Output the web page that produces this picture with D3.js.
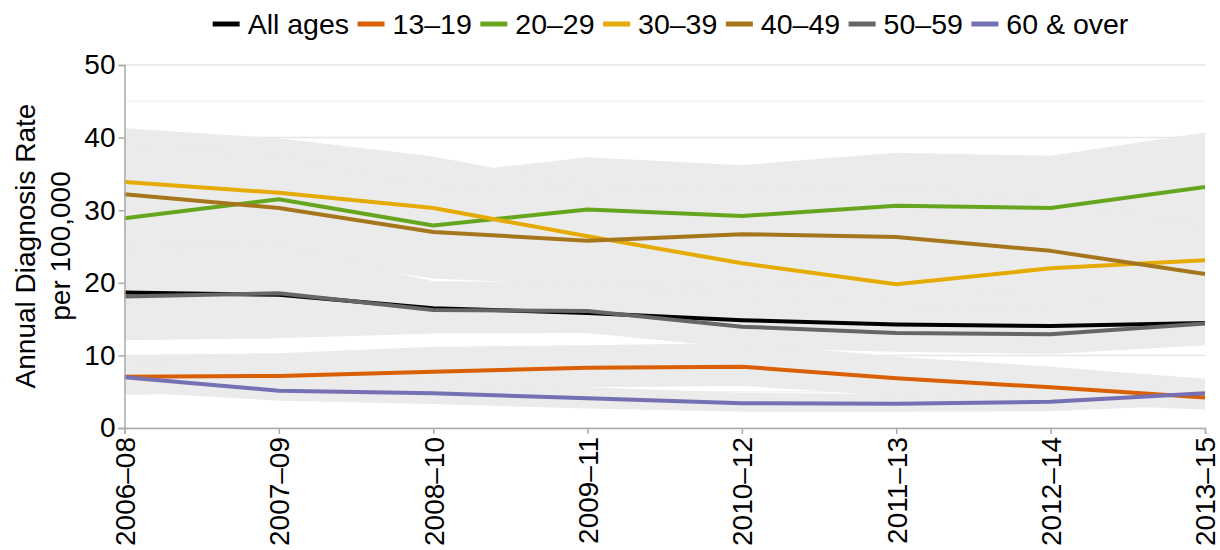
<!DOCTYPE html>
<html>
<head>
<meta charset="utf-8">
<script src="https://cdn.jsdelivr.net/npm/d3@7"></script>
<style>
  html, body { margin: 0; padding: 0; background: #fff; }
  svg { display: block; font-family: "Liberation Sans", Arial, sans-serif; }
</style>
</head>
<body>
<svg id="chart" width="1220" height="550"></svg>
<script>
// ---- data ----
const categories = ["2006–08","2007–09","2008–10","2009–11","2010–12","2011–13","2012–14","2013–15"];
const seriesNames = ["All ages","13–19","20–29","30–39","40–49","50–59","60 & over"];
const seriesColors = ["#000000","#d95f02","#66a61e","#e6ab02","#a6761d","#666666","#7570b3"];

const allAges     = [18.65, 18.35, 16.5, 15.85, 14.85, 14.25, 14.05, 14.45];
const allAgesLo   = [17.5, 17.2, 15.4, 14.8, 13.8, 13.2, 13.0, 13.4];
const allAgesHi   = [19.8, 19.5, 17.6, 16.9, 15.9, 15.3, 15.1, 15.5];

const age13_19    = [7.07, 7.16, 7.76, 8.3, 8.45, 6.85, 5.6, 4.2];
const age13_19Lo  = [4.6, 4.7, 5.2, 5.6, 5.8, 4.4, 3.4, 2.5];
const age13_19Hi  = [10.05, 10.3, 11.2, 11.4, 11.7, 9.8, 8.45, 6.8];

const age20_29    = [28.9, 31.5, 27.9, 30.1, 29.2, 30.6, 30.3, 33.2];
const age20_29Lo  = [22.4, 25.0, 21.4, 23.6, 22.7, 24.1, 23.8, 26.5];
const age20_29Hi  = [36.1, 38.7, 34.9, 37.3, 36.2, 37.9, 37.5, 40.7];

const age30_39    = [33.9, 32.4, 30.3, 26.4, 22.7, 19.8, 22.0, 23.1];
const age30_39Lo  = [27.2, 25.8, 23.8, 20.2, 16.6, 13.9, 15.8, 16.9];
const age30_39Hi  = [41.3, 39.9, 37.4, 33.4, 29.5, 26.4, 29.0, 30.3];

const age40_49    = [32.2, 30.3, 27.0, 25.8, 26.7, 26.3, 24.4, 21.2];
const age40_49Lo  = [25.8, 23.9, 20.6, 19.6, 20.3, 20.0, 18.2, 15.2];
const age40_49Hi  = [39.2, 37.3, 33.6, 32.4, 33.5, 33.1, 31.3, 27.9];

const age50_59    = [18.1, 18.55, 16.25, 16.1, 13.95, 13.1, 12.9, 14.4];
const age50_59Lo  = [12.1, 12.35, 13.0, 13.1, 11.0, 10.5, 10.2, 11.4];
const age50_59Hi  = [24.5, 25.3, 20.2, 20.1, 18.0, 17.0, 16.8, 18.5];

const age60plus   = [6.98, 5.14, 4.78, 4.1, 3.4, 3.35, 3.6, 4.8];
const age60plusLo = [5.0, 3.76, 3.3, 2.7, 2.25, 2.25, 2.3, 3.2];
const age60plusHi = [9.0, 6.5, 6.2, 5.6, 4.85, 4.7, 5.0, 6.6];

const yTicks = [0, 10, 20, 30, 40, 50];
const yMinorTicks = [5, 15, 25, 35, 45];

const values = [allAges, age13_19, age20_29, age30_39, age40_49, age50_59, age60plus];
const lows   = [allAgesLo, age13_19Lo, age20_29Lo, age30_39Lo, age40_49Lo, age50_59Lo, age60plusLo];
const highs  = [allAgesHi, age13_19Hi, age20_29Hi, age30_39Hi, age40_49Hi, age50_59Hi, age60plusHi];

const series = seriesNames.map((name, i) => ({
  name, color: seriesColors[i],
  points: categories.map((c, j) => ({ cat: c, v: values[i][j], lo: lows[i][j], hi: highs[i][j] }))
}));

// ---- layout ----
const W = 1220, H = 550;
const margin = { left: 124.5, right: 15, top: 65, bottom: 122 };
const svg = d3.select("#chart");

const x = d3.scalePoint().domain(categories).range([margin.left, W - margin.right]);
const y = d3.scaleLinear().domain([0, 50]).range([H - margin.bottom, margin.top]);

// gridlines
const grid = svg.append("g");
grid.selectAll("line.minor").data(yMinorTicks).join("line")
  .attr("class", "minor")
  .attr("x1", margin.left).attr("x2", W - margin.right)
  .attr("y1", d => y(d)).attr("y2", d => y(d))
  .attr("stroke", "#f3f3f3").attr("stroke-width", 1.5);
grid.selectAll("line.major").data(yTicks).join("line")
  .attr("class", "major")
  .attr("x1", margin.left).attr("x2", W - margin.right)
  .attr("y1", d => y(d)).attr("y2", d => y(d))
  .attr("stroke", "#e6e6e6").attr("stroke-width", 1.5);

// confidence bands
const area = d3.area()
  .x(d => x(d.cat))
  .y0(d => y(d.lo))
  .y1(d => y(d.hi));
svg.append("g").selectAll("path").data(series).join("path")
  .attr("d", d => area(d.points))
  .attr("fill", "#ebebeb");

// lines
const line = d3.line().x(d => x(d.cat)).y(d => y(d.v));
svg.append("g").selectAll("path").data(series).join("path")
  .attr("d", d => line(d.points))
  .attr("fill", "none")
  .attr("stroke", d => d.color)
  .attr("stroke-width", 4)
  .attr("stroke-linejoin", "round");

// axes
const axisColor = "#ababab";
const yAxis = svg.append("g")
  .attr("transform", `translate(${margin.left},0)`)
  .call(d3.axisLeft(y).tickValues(yTicks).tickSize(6).tickPadding(3));
yAxis.select(".domain").attr("stroke", axisColor).attr("stroke-width", 1.5);
yAxis.selectAll(".tick line").attr("stroke", axisColor).attr("stroke-width", 1.5);
yAxis.selectAll(".tick text").attr("font-size", 28).attr("fill", "#000")
  .attr("font-family", "Liberation Sans, Arial, sans-serif");

const xAxis = svg.append("g")
  .attr("transform", `translate(0,${H - margin.bottom})`)
  .call(d3.axisBottom(x).tickSize(6).tickPadding(3));
xAxis.select(".domain").attr("stroke", axisColor).attr("stroke-width", 1.5);
xAxis.selectAll(".tick line").attr("stroke", axisColor).attr("stroke-width", 1.5);
xAxis.selectAll(".tick text")
  .attr("font-size", 28).attr("fill", "#000")
  .attr("font-family", "Liberation Sans, Arial, sans-serif")
  .attr("text-anchor", "end")
  .attr("transform", "rotate(-90)")
  .attr("x", -9).attr("y", 0).attr("dy", "0.35em");

// y-axis title
const yTitle = svg.append("text")
  .attr("transform", `translate(35,246) rotate(-90)`)
  .attr("text-anchor", "middle")
  .attr("font-size", 28).attr("fill", "#000");
yTitle.append("tspan").attr("x", 0).attr("y", 0).text("Annual Diagnosis Rate");
yTitle.append("tspan").attr("x", 0).attr("y", 35).text("per 100,000");

// legend
const legend = svg.append("g");
let cx = 0;
series.forEach(s => {
  const g = legend.append("g").attr("transform", `translate(${cx},0)`);
  g.append("line").attr("x1", 0).attr("x2", 27).attr("y1", 24).attr("y2", 24)
    .attr("stroke", s.color).attr("stroke-width", 5);
  const t = g.append("text").attr("x", 35).attr("y", 34).attr("font-size", 28.5)
    .attr("fill", "#000").text(s.name);
  const w = t.node().getComputedTextLength();
  cx += 35 + w + 8.5;
});
const legendWidth = cx - 8.5;
legend.attr("transform", `translate(${670.5 - legendWidth / 2},0)`);
</script>
</body>
</html>
